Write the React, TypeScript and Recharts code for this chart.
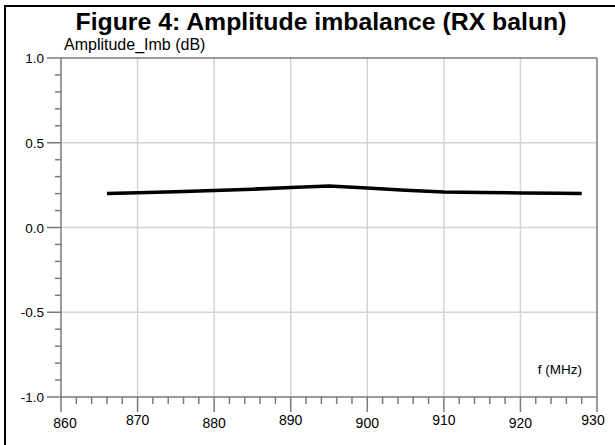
import React from 'react';
import { LineChart, Line, XAxis, YAxis, ReferenceLine } from 'recharts';

// frequency (MHz) and amplitude imbalance (dB)
const freqs = [866, 870, 875, 880, 885, 890, 895, 900, 905, 910, 915, 920, 925, 928];
const imbalance = [0.2, 0.205, 0.211, 0.218, 0.226, 0.236, 0.245, 0.233, 0.22, 0.209, 0.206, 0.204, 0.202, 0.2];

const xTicks = [
  860, 862, 864, 866, 868, 870, 872, 874, 876, 878, 880, 882, 884, 886, 888, 890, 892, 894,
  896, 898, 900, 902, 904, 906, 908, 910, 912, 914, 916, 918, 920, 922, 924, 926, 928, 930,
];
const xMajor = [860, 870, 880, 890, 900, 910, 920, 930];
const yTicks = [
  -1.0, -0.9, -0.8, -0.7, -0.6, -0.5, -0.4, -0.3, -0.2, -0.1, 0.0,
  0.1, 0.2, 0.3, 0.4, 0.5, 0.6, 0.7, 0.8, 0.9, 1.0,
];
const yMajor = [-1.0, -0.5, 0.0, 0.5, 1.0];
const xGrid = [870, 880, 890, 900, 910, 920];
const yGrid = [-0.5, 0.0, 0.5];

const data = freqs.map((f, i) => ({ f, v: imbalance[i] }));

const FONT = '"Liberation Sans", Arial, sans-serif';
const AXIS = '#7a7a7a';
const GRID = '#d4d4d4';

const XTick = (props: any) => {
  const { x, y, payload } = props;
  const idx = xMajor.indexOf(payload.value);
  if (idx === -1) {
    return <line x1={x} x2={x} y1={y} y2={y + 7} stroke={AXIS} strokeWidth={1.5} />;
  }
  const dy = idx % 2 === 0 ? 31 : 28;
  // end labels sit slightly inside the plot
  const dx = idx === 0 ? 4 : idx === xMajor.length - 1 ? -4 : 0;
  return (
    <g>
      <line x1={x} x2={x} y1={y} y2={y + 15} stroke={AXIS} strokeWidth={1.5} />
      <text x={x + dx} y={y + dy} textAnchor="middle" fontSize={14} fontFamily={FONT} fill="#000">
        {payload.value}
      </text>
    </g>
  );
};

const YTick = (props: any) => {
  const { x, y, payload } = props;
  const major = yMajor.some((m) => Math.abs(m - payload.value) < 1e-6);
  if (!major) {
    return <line x1={x - 6} x2={x} y1={y} y2={y} stroke={AXIS} strokeWidth={1.5} />;
  }
  return (
    <g>
      <line x1={x - 14} x2={x} y1={y} y2={y} stroke={AXIS} strokeWidth={1.5} />
      <text x={x - 17} y={y + 5} textAnchor="end" fontSize={13.5} fontFamily={FONT} fill="#000">
        {payload.value.toFixed(1)}
      </text>
    </g>
  );
};

export default function App() {
  return (
    <div style={{ position: 'absolute', left: 0, top: 0, width: 615, height: 445, background: '#fff', fontFamily: FONT }}>
      <div style={{ position: 'absolute', left: 4, top: 5, width: 611, height: 440, borderTop: '2px solid #000', borderLeft: '2px solid #000' }} />
      <div style={{ position: 'absolute', left: 0, width: 642, top: 8, textAlign: 'center', fontSize: 24.8, fontWeight: 'bold', lineHeight: '28px' }}>
        Figure 4: Amplitude imbalance (RX balun)
      </div>
      <div style={{ position: 'absolute', left: 64, top: 36, fontSize: 16, lineHeight: '18px' }}>Amplitude_Imb (dB)</div>
      <div style={{ position: 'absolute', right: 33, top: 362, fontSize: 13.5, lineHeight: '16px' }}>f (MHz)</div>
      <LineChart
        width={615}
        height={445}
        data={data}
        margin={{ top: 58, right: 18, bottom: 47, left: 60 }}
        style={{ position: 'absolute', left: 0, top: 0 }}
      >
        {xGrid.map((g) => (
          <ReferenceLine key={'x' + g} x={g} stroke={GRID} strokeWidth={1.5} />
        ))}
        {yGrid.map((g) => (
          <ReferenceLine key={'y' + g} y={g} stroke={GRID} strokeWidth={1.5} />
        ))}
        <ReferenceLine y={1} stroke={AXIS} strokeWidth={1.5} ifOverflow="visible" />
        <ReferenceLine x={930} stroke={AXIS} strokeWidth={1.5} ifOverflow="visible" />
        <XAxis
          dataKey="f"
          type="number"
          domain={[860, 930]}
          ticks={xTicks}
          interval={0}
          height={1}
          tickSize={0}
          tickMargin={0}
          tickLine={false}
          axisLine={{ stroke: AXIS, strokeWidth: 1.5 }}
          tick={<XTick />}
        />
        <YAxis
          type="number"
          domain={[-1, 1]}
          ticks={yTicks}
          interval={0}
          width={1}
          tickSize={0}
          tickMargin={0}
          tickLine={false}
          axisLine={{ stroke: AXIS, strokeWidth: 1.5 }}
          tick={<YTick />}
        />
        <Line
          type="linear"
          dataKey="v"
          stroke="#000"
          strokeWidth={3.5}
          dot={false}
          isAnimationActive={false}
        />
      </LineChart>
    </div>
  );
}
